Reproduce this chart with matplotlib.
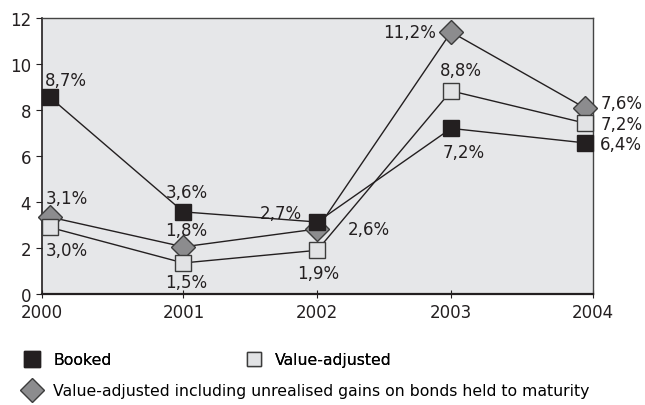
import matplotlib
matplotlib.use("Agg")
import matplotlib.pyplot as plt
from matplotlib.lines import Line2D

plt.rcParams["font.family"] = "DejaVu Sans"

YEARS = ["2000", "2001", "2002", "2003", "2004"]

# marker positions
BOOKED = [8.57, 3.57, 3.13, 7.2, 6.57]
VALUE_ADJ = [2.9, 1.35, 1.9, 8.83, 7.43]
VALUE_ADJ_HTM = [3.35, 2.05, 2.83, 11.39, 8.09]

# printed labels (they do not always sit on the markers)
BOOKED_LABELS = ["8,7%", "3,6%", "2,7%", "7,2%", "6,4%"]
VALUE_ADJ_LABELS = ["3,0%", "1,5%", "1,9%", "8,8%", "7,2%"]
VALUE_ADJ_HTM_LABELS = ["3,1%", "1,8%", "2,6%", "11,2%", "7,6%"]

LEGEND_NAMES = ["Booked", "Value-adjusted",
                "Value-adjusted including unrealised gains on bonds held to maturity"]

BG = "#e6e7e9"
DARK = "#231f20"
LIGHT = "#e2e3e5"
GREY = "#8c8c8e"
EDGE = "#3c3c3c"

fig = plt.figure(figsize=(6.45, 4.06), dpi=100)
ax = fig.add_axes([41.5 / 645, 1 - 295 / 406, 551.5 / 645, 276 / 406])
ax.set_facecolor(BG)

x = list(range(len(YEARS)))
ax.plot(x, VALUE_ADJ_HTM, color=DARK, lw=1.0, marker="D", ms=12,
        mfc=GREY, mec=EDGE, mew=1.0, zorder=3, clip_on=False)
ax.plot(x, VALUE_ADJ, color=DARK, lw=1.0, marker="s", ms=11.5,
        mfc=LIGHT, mec=EDGE, mew=1.0, zorder=4, clip_on=False)
ax.plot(x, BOOKED, color=DARK, lw=1.0, marker="s", ms=12,
        mfc=DARK, mec=DARK, mew=1.0, zorder=5, clip_on=False)

# label offsets in points (dx, dy, ha) relative to each marker
fs = 12
booked_off = [(-3, 12, "left"), (-13, 14, "left"), (-11, 6.5, "right"), (9, -17, "center"), (11, -0.5, "left")]
va_off = [(-3, -16.5, "left"), (-13, -13.7, "left"), (1, -16, "center"), (-8, 15, "left"), (11, -0.5, "left")]
htm_off = [(-3, 14, "left"), (-13, 12, "left"), (22, 0, "left"), (-11, 0, "right"), (11, 3.5, "left")]

for vals, labels, offs in [(BOOKED, BOOKED_LABELS, booked_off),
                           (VALUE_ADJ, VALUE_ADJ_LABELS, va_off),
                           (VALUE_ADJ_HTM, VALUE_ADJ_HTM_LABELS, htm_off)]:
    for xi, v, lab, (dx, dy, ha) in zip(x, vals, labels, offs):
        ax.annotate(lab, (xi, v), xytext=(dx, dy), textcoords="offset points",
                    ha=ha, va="center", fontsize=fs, color=DARK, zorder=6)

ax.set_xlim(-0.06, 4.06)
ax.set_ylim(0, 12)
ax.set_yticks(range(0, 13, 2))
ax.set_xticks([-0.06, 1, 2, 3, 4.06])
ax.set_xticklabels(YEARS)
ax.tick_params(axis="both", labelsize=12, colors=DARK, length=4, width=0.8)
ax.tick_params(axis="x", direction="inout", length=6)

for side in ["top", "right"]:
    ax.spines[side].set_color("#444444")
    ax.spines[side].set_linewidth(1.0)
ax.spines["left"].set_color(DARK)
ax.spines["left"].set_linewidth(1.2)
ax.spines["bottom"].set_color(DARK)
ax.spines["bottom"].set_linewidth(1.6)

# legend below the axes: two rows
handles = [
    Line2D([], [], ls="none", marker="s", ms=12, mfc=DARK, mec=DARK),
    Line2D([], [], ls="none", marker="s", ms=10.5, mfc=LIGHT, mec=EDGE),
    Line2D([], [], ls="none", marker="D", ms=12, mfc=GREY, mec=EDGE),
]
leg_fs = 11.3
leg1 = fig.legend(handles[:2], LEGEND_NAMES[:2], ncol=2, loc="center left",
                  bbox_to_anchor=(24 / 645, 1 - 361 / 406), frameon=False,
                  fontsize=leg_fs, handlelength=1.0, handletextpad=0.85,
                  columnspacing=8.6, borderaxespad=0, borderpad=0)
fig.legend(handles[2:], LEGEND_NAMES[2:], loc="center left",
           bbox_to_anchor=(24 / 645, 1 - 392 / 406), frameon=False,
           fontsize=leg_fs, handlelength=1.0, handletextpad=0.85,
           borderaxespad=0, borderpad=0)
fig.add_artist(leg1)

fig.savefig("out.png", dpi=100)
